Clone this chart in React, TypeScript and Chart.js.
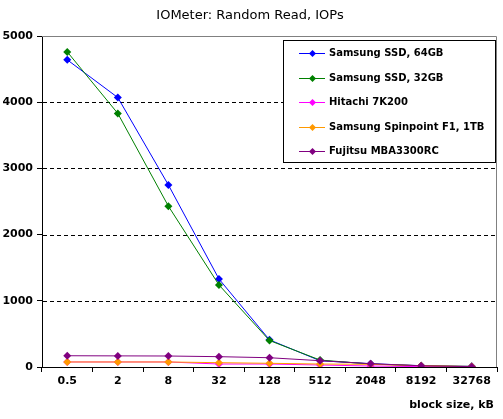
import React, { useEffect, useRef } from "react";
import { Chart, registerables } from "chart.js";

Chart.register(...registerables);

const categories = ["0.5", "2", "8", "32", "128", "512", "2048", "8192", "32768"];
const ssd64 = [4640, 4070, 2750, 1330, 410, 95, 50, 20, 10];
const ssd32 = [4760, 3830, 2430, 1240, 400, 105, 45, 18, 8];
const hitachi = [76, 76, 76, 45, 45, 30, 15, 5, 3];
const spinpoint = [76, 76, 76, 65, 56, 45, 40, 20, 8];
const fujitsu = [170, 168, 166, 156, 140, 95, 50, 18, 5];
const yTicks = [0, 1000, 2000, 3000, 4000, 5000];
const seriesNames = [
  "Samsung SSD, 64GB",
  "Samsung SSD, 32GB",
  "Hitachi 7K200",
  "Samsung Spinpoint F1, 1TB",
  "Fujitsu MBA3300RC",
];
const seriesColors = ["#0000FF", "#008000", "#FF00FF", "#FF9900", "#800080"];
const titleText = "IOMeter: Random Read, IOPs";
const xTitleText = "block size, kB";

const FONT = "'DejaVu Sans', Verdana, sans-serif";

const decorPlugin = {
  id: "decor",
  beforeDatasetsDraw(chart: any) {
    const { ctx, chartArea } = chart;
    const y = chart.scales.y;
    ctx.save();
    ctx.strokeStyle = "#000";
    ctx.lineWidth = 1;
    ctx.setLineDash([4, 3]);
    for (const v of yTicks) {
      if (v === 0 || v === 5000) continue;
      const py = Math.round(y.getPixelForValue(v)) + 0.5;
      ctx.beginPath();
      ctx.moveTo(chartArea.left + 1, py);
      ctx.lineTo(chartArea.right, py);
      ctx.stroke();
    }
    ctx.setLineDash([]);
    ctx.strokeStyle = "#808080";
    const top = Math.round(chartArea.top) + 0.5;
    const right = Math.round(chartArea.right) - 0.5;
    ctx.beginPath();
    ctx.moveTo(chartArea.left, top);
    ctx.lineTo(right, top);
    ctx.lineTo(right, chartArea.bottom);
    ctx.stroke();
    ctx.restore();
  },
  afterDraw(chart: any) {
    const { ctx } = chart;
    ctx.save();
    // title
    ctx.fillStyle = "#000";
    ctx.font = `13px ${FONT}`;
    ctx.textAlign = "center";
    ctx.textBaseline = "middle";
    ctx.fillText(titleText, 250, 16);
    // x axis title
    ctx.font = `bold 11px ${FONT}`;
    ctx.textAlign = "right";
    ctx.fillText(xTitleText, 494, 405);
    // legend
    const lx = 283.5, ly = 40.5, lw = 212, lh = 122;
    ctx.fillStyle = "#fff";
    ctx.fillRect(lx, ly, lw, lh);
    ctx.strokeStyle = "#000";
    ctx.lineWidth = 1;
    ctx.strokeRect(lx, ly, lw, lh);
    ctx.textAlign = "left";
    ctx.font = `bold 10px ${FONT}`;
    seriesNames.forEach((name, i) => {
      const cy = 53 + i * 24.5;
      const c = seriesColors[i];
      ctx.strokeStyle = c;
      ctx.beginPath();
      ctx.moveTo(299, Math.round(cy) + 0.5);
      ctx.lineTo(325, Math.round(cy) + 0.5);
      ctx.stroke();
      ctx.fillStyle = c;
      const mx = 312.5, my = Math.round(cy) + 0.5, r = 3.5;
      ctx.beginPath();
      ctx.moveTo(mx, my - r);
      ctx.lineTo(mx + r, my);
      ctx.lineTo(mx, my + r);
      ctx.lineTo(mx - r, my);
      ctx.closePath();
      ctx.fill();
      ctx.fillStyle = "#000";
      ctx.textBaseline = "middle";
      ctx.fillText(name, 329, cy + 0.5);
    });
    ctx.restore();
  },
};

export default function App() {
  const ref = useRef<HTMLCanvasElement | null>(null);
  useEffect(() => {
    document.body.style.margin = "0";
    if (!ref.current) return;
    const allData = [ssd64, ssd32, hitachi, spinpoint, fujitsu];
    const chart = new Chart(ref.current, {
      type: "line",
      data: {
        labels: categories,
        datasets: allData.map((d, i) => ({
          label: seriesNames[i],
          data: d,
          borderColor: seriesColors[i],
          backgroundColor: seriesColors[i],
          borderWidth: 1,
          pointStyle: "rectRot",
          pointRadius: 4,
          pointBorderWidth: 0,
          tension: 0,
          fill: false,
          order: 5 - i,
        })),
      },
      options: {
        responsive: false,
        animation: false,
        devicePixelRatio: 1,
        layout: { padding: { top: 36, right: 6, left: 0, bottom: 0 } },
        plugins: {
          legend: { display: false },
          title: { display: false },
          tooltip: { enabled: false },
        },
        scales: {
          x: {
            type: "category",
            offset: true,
            grid: {
              display: true,
              offset: true,
              drawOnChartArea: false,
              drawTicks: true,
              tickLength: 5,
              color: "#000",
            },
            border: { display: true, color: "#000", width: 1 },
            ticks: {
              color: "#000",
              font: { family: FONT, size: 11, weight: "bold" },
              padding: 3,
              maxRotation: 0,
              autoSkip: false,
            },
            afterFit: (s: any) => {
              s.height = 52;
            },
          },
          y: {
            min: 0,
            max: 5000,
            grid: {
              display: true,
              drawOnChartArea: false,
              drawTicks: true,
              tickLength: 5,
              color: "#000",
            },
            border: { display: true, color: "#000", width: 1 },
            ticks: {
              stepSize: 1000,
              color: "#000",
              font: { family: FONT, size: 11, weight: "bold" },
              padding: 4,
              callback: (v: any) => String(v),
            },
            afterFit: (s: any) => {
              s.width = 42;
            },
          },
        },
      },
      plugins: [decorPlugin],
    });
    return () => chart.destroy();
  }, []);
  return (
    <div style={{ position: "absolute", left: 0, top: 0, width: 503, height: 419 }}>
      <canvas ref={ref} width={503} height={419} style={{ width: 503, height: 419 }} />
    </div>
  );
}
